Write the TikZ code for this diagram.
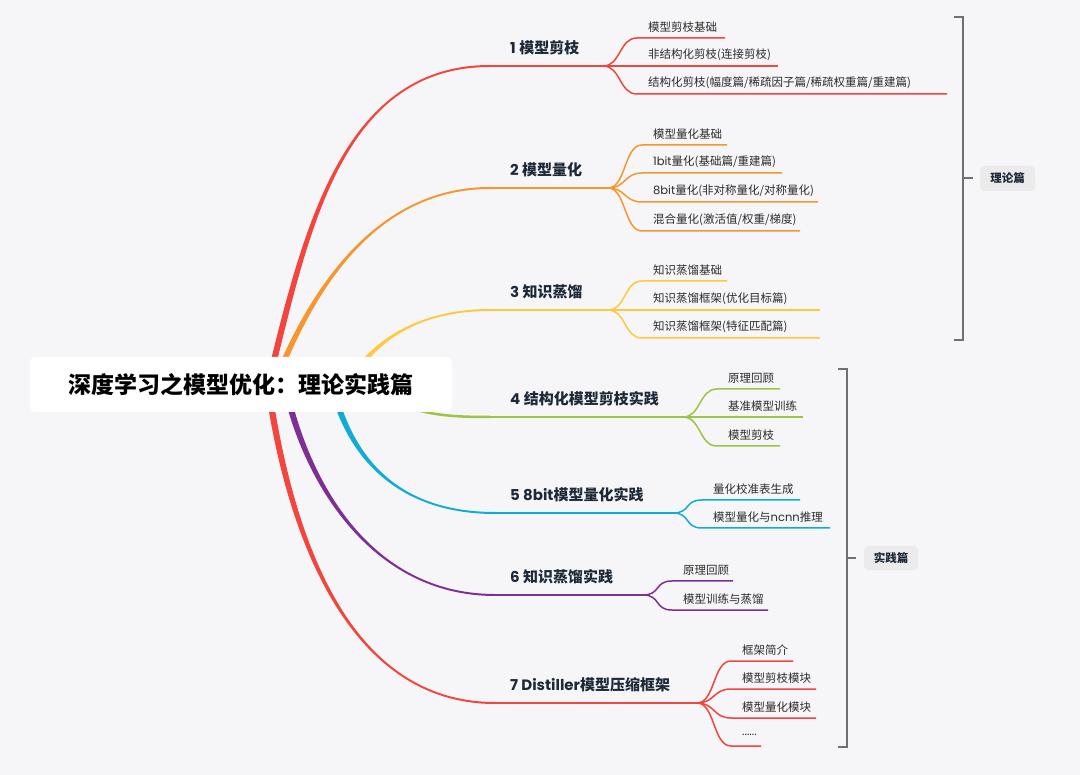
\documentclass[tikz,border=0pt]{standalone}
\usepackage{fontspec}
\setmainfont{Noto Sans CJK SC}
\newfontfamily\lat{Poppins}
\usetikzlibrary{calc}
\definecolor{bg}{HTML}{F6F6F8}
\definecolor{cred}{HTML}{F2453D}
\definecolor{corange}{HTML}{F7962F}
\definecolor{cyellow}{HTML}{FFC83D}
\definecolor{cgreen}{HTML}{9CC445}
\definecolor{ccyan}{HTML}{0FADD4}
\definecolor{cpurple}{HTML}{7D2F95}
\definecolor{mainc}{HTML}{1D2939}
\definecolor{subc}{HTML}{2B2B2B}
\definecolor{tagc}{HTML}{EBEBEB}
\definecolor{brkc}{HTML}{707070}
% tapered main curve: #1 colour, #2..#5 points, #6 end offset sign (-1 up, 1 down)
\newcommand\taper[6]{%
  \fill[#1] ($(#2)+(-3.2,0)$) .. controls ($(#3)+(-3.2,0)$) and ($(#4)+(0,#6)$) .. ($(#5)+(0,#6)$)
    -- ($(#5)-(0,#6)$) .. controls ($(#4)-(0,#6)$) and ($(#3)+(3.2,0)$) .. ($(#2)+(3.2,0)$) -- cycle;}
% sub branch: #1 colour, #2 fork name, #3 fork x, #4 sub y, #5 end x, #6 name, #7 text
\newcommand\subbr[7]{%
  \coordinate (#6s) at (#3+34,#4);
  \coordinate (#6e) at (#5,#4);
  \draw[sub,draw=#1] (#2) .. controls +(18,0) and +(-18,0) .. (#6s) -- (#6e);
  \node[subtxt] (#6) at (#3+45,#4-11) {#7};}
\begin{document}
\begin{tikzpicture}[x=1pt,y=-1pt,
  sub/.style={line width=1.5pt},
  mainln/.style={line width=2.2pt},
  subtxt/.style={anchor=west,inner sep=0pt,font=\fontsize{11.5}{13}\selectfont,text=subc},
  mainlbl/.style={anchor=west,inner sep=0pt,font=\fontsize{15}{17}\selectfont\bfseries,text=mainc},
  tag/.style={fill=tagc,rounded corners=4pt,font=\fontsize{11.5}{13}\selectfont\bfseries,text=mainc,inner sep=0pt},
  brk/.style={draw=brkc,line width=1.5pt},
  rootbox/.style={fill=white,rounded corners=5pt,minimum width=422pt,minimum height=55pt,inner sep=0pt,
    font=\fontsize{23}{26}\selectfont\bfseries,text=black}]
\useasboundingbox (0,0) rectangle (1080,775);
\fill[bg] (0,0) rectangle (1080,775);

% ---- main curves ----
\coordinate (s1) at (268,385); \coordinate (e1) at (490,66);  \coordinate (f1) at (603,66);
\coordinate (s2) at (274,385); \coordinate (e2) at (490,188); \coordinate (f2) at (608,188);
\coordinate (s3) at (345,390); \coordinate (e3) at (490,310); \coordinate (f3) at (608,310);
\coordinate (s4) at (400,405); \coordinate (e4) at (490,417); \coordinate (f4) at (683,417);
\coordinate (s5) at (332,385); \coordinate (e5) at (495,513); \coordinate (f5) at (673,513);
\coordinate (s6) at (285,385); \coordinate (e6) at (495,595); \coordinate (f6) at (643,595);
\coordinate (s7) at (268,385); \coordinate (e7) at (495,703); \coordinate (f7) at (697,703);

\taper{cred}{s1}{305,235}{340,66}{e1}{-1}
\taper{corange}{s2}{300,320}{360,188}{e2}{-1}
\taper{cyellow}{s3}{370,340}{420,310}{e3}{-1}
\draw[cgreen,line width=2.5pt] (s4) .. controls (430,415) and (450,417) .. (e4);
\taper{ccyan}{s5}{350,460}{400,513}{e5}{1}
\taper{cpurple}{s6}{305,480}{370,595}{e6}{1}
\taper{cred}{s7}{290,540}{350,703}{e7}{1}

\draw[mainln,cred] (e1) -- (f1);
\draw[mainln,corange] (e2) -- (f2);
\draw[mainln,cyellow] (e3) -- (f3);
\draw[mainln,cgreen] (e4) -- (f4);
\draw[mainln,ccyan] (e5) -- (f5);
\draw[mainln,cpurple] (e6) -- (f6);
\draw[mainln,cred] (e7) -- (f7);

% ---- root ----
\node[rootbox] (root) at (241,384.5) {深度学习之模型优化：理论实践篇};

% ---- main labels ----
\node[mainlbl] (l1) at (510,47.5) {{\lat 1} 模型剪枝};
\node[mainlbl] (l2) at (510,169.5) {{\lat 2} 模型量化};
\node[mainlbl] (l3) at (510,291.5) {{\lat 3} 知识蒸馏};
\node[mainlbl] (l4) at (510,398.5) {{\lat 4} 结构化模型剪枝实践};
\node[mainlbl] (l5) at (510,494.5) {{\lat 5 8bit}模型量化实践};
\node[mainlbl] (l6) at (510,576.5) {{\lat 6} 知识蒸馏实践};
\node[mainlbl] (l7) at (510,684.5) {{\lat 7 Distiller}模型压缩框架};

% ---- sub branches ----
\subbr{cred}{f1}{603}{38}{725}{a1}{模型剪枝基础}
\subbr{cred}{f1}{603}{66}{778}{a2}{非结构化剪枝(连接剪枝)}
\subbr{cred}{f1}{603}{94}{947}{a3}{结构化剪枝(幅度篇/稀疏因子篇/稀疏权重篇/重建篇)}

\subbr{corange}{f2}{608}{145}{727}{b1}{模型量化基础}
\subbr{corange}{f2}{608}{173}{782}{b2}{{\lat 1bit}量化(基础篇/重建篇)}
\subbr{corange}{f2}{608}{202}{818}{b3}{{\lat 8bit}量化(非对称量化/对称量化)}
\subbr{corange}{f2}{608}{231}{800}{b4}{混合量化(激活值/权重/梯度)}

\subbr{cyellow}{f3}{608}{281}{727}{c1}{知识蒸馏基础}
\subbr{cyellow}{f3}{608}{310}{820}{c2}{知识蒸馏框架(优化目标篇)}
\subbr{cyellow}{f3}{608}{338}{820}{c3}{知识蒸馏框架(特征匹配篇)}

\subbr{cgreen}{f4}{683}{389}{780}{d1}{原理回顾}
\subbr{cgreen}{f4}{683}{417}{803}{d2}{基准模型训练}
\subbr{cgreen}{f4}{683}{446}{780}{d3}{模型剪枝}

\subbr{ccyan}{f5}{668}{500}{800}{g1}{量化校准表生成}
\subbr{ccyan}{f5}{668}{528}{830}{g2}{模型量化与{\lat ncnn}推理}

\subbr{cpurple}{f6}{638}{581}{733}{h1}{原理回顾}
\subbr{cpurple}{f6}{638}{610}{768}{h2}{模型训练与蒸馏}

\subbr{cred}{f7}{697}{661}{793}{k1}{框架简介}
\subbr{cred}{f7}{697}{689}{816}{k2}{模型剪枝模块}
\subbr{cred}{f7}{697}{718}{816}{k3}{模型量化模块}
\subbr{cred}{f7}{697}{746}{761}{k4}{{\lat ......}}

% ---- brackets ----
\coordinate (p1a) at (954,17);  \coordinate (p1b) at (963,17);
\coordinate (p1c) at (963,340); \coordinate (p1d) at (954,340);
\coordinate (p1m) at (963,178);
\draw[brk] (p1a) -- (p1b) -- (p1c) -- (p1d);
\node[tag,minimum width=55pt,minimum height=25pt] (t1) at (1007.5,178.5) {理论篇};
\draw[brk] (p1m) -- ++(10,0);

\coordinate (p2a) at (838,369); \coordinate (p2b) at (847,369);
\coordinate (p2c) at (847,747); \coordinate (p2d) at (838,747);
\coordinate (p2m) at (847,558);
\draw[brk] (p2a) -- (p2b) -- (p2c) -- (p2d);
\node[tag,minimum width=54pt,minimum height=24pt] (t2) at (891,558) {实践篇};
\draw[brk] (p2m) -- ++(9,0);
\end{tikzpicture}
\end{document}
